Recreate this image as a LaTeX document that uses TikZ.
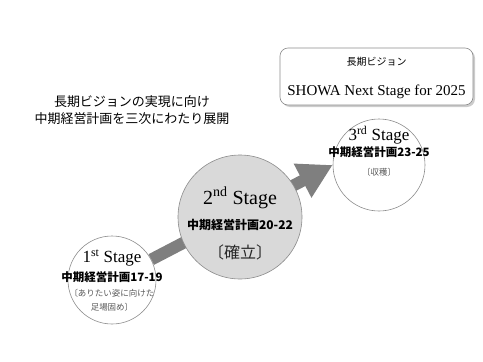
\documentclass[tikz,border=0pt]{standalone}
\usepackage{fontspec}
\setmainfont{Liberation Serif}
\newfontfamily\jpfont{Noto Sans CJK JP}
\usepackage{xcolor}
\definecolor{arrowgray}{HTML}{7F7F7F}
\definecolor{ringgray}{HTML}{8C8C8C}
\definecolor{diskgray}{HTML}{D9D9D9}
\definecolor{notegray}{HTML}{595959}
\definecolor{shadowgray}{HTML}{9A9A9A}
\usetikzlibrary{positioning, arrows.meta, backgrounds, shadows}

\begin{document}
\begin{tikzpicture}[x=1pt, y=-1pt]
    \tikzstyle{stagering} = [circle, draw=ringgray, line width=0.6pt, fill=white, inner sep=0pt]
    \tikzstyle{stagetitle} = [inner sep=0pt, font=\fontsize{17}{17}\selectfont]
    \tikzstyle{planlabel} = [inner sep=0pt, font=\jpfont\bfseries\fontsize{11.5}{12}\selectfont]
    \tikzstyle{notelabel} = [inner sep=0pt, text=notegray, font=\jpfont\fontsize{8.5}{14}\selectfont, align=center]
    \tikzstyle{visionbox} = [draw=ringgray, line width=0.6pt, fill=white, rounded corners=8pt, inner sep=0pt, drop shadow={shadow xshift=2pt, shadow yshift=-2pt, fill=shadowgray}]
    \tikzstyle{stagearrow} = [draw=arrowgray, line width=12pt, -{Triangle[length=34pt, width=36pt]}]

    \useasboundingbox (0,0) rectangle (483,362);

    % vision box
    \node [visionbox, minimum width=193pt, minimum height=57pt] (vision) at (376.5,76.5) {};
    \node [inner sep=0pt, font=\jpfont\fontsize{10}{10}\selectfont] (visiontitle) at ([yshift=14.5pt]vision.center) {長期ビジョン};
    \node [inner sep=0pt, font=\fontsize{15}{15}\selectfont] (visionname) at ([yshift=-15.5pt]vision.center) {SHOWA Next Stage for 2025};

    % lead text
    \node [inner sep=0pt, align=center, font=\jpfont\fontsize{13}{17}\selectfont] (lead) at (132,110) {長期ビジョンの実現に向け\\中期経営計画を三次にわたり展開};

    % stages
    \node [stagering, minimum size=88pt] (c1) at (112,280) {};
    \node [stagering, minimum size=124pt, fill=diskgray] (c2) at (240,217) {};
    \node [stagering, minimum size=92pt] (c3) at (379,165) {};

    \node [stagetitle] (t1) at ([yshift=22pt]c1.center) {1\textsuperscript{st} Stage};
    \node [planlabel] (p1) at ([yshift=3pt]c1.center) {中期経営計画17-19};
    \node [notelabel] (n1) at ([yshift=-20pt]c1.center) {〔ありたい姿に向けた\\足場固め〕};

    \node [stagetitle, font=\fontsize{20}{20}\selectfont] (t2) at ([yshift=19pt]c2.center) {2\textsuperscript{nd} Stage};
    \node [planlabel, font=\jpfont\bfseries\fontsize{12}{12}\selectfont] (p2) at ([yshift=-8pt]c2.center) {中期経営計画20-22};
    \node [inner sep=0pt, text=black!85, font=\jpfont\fontsize{16}{16}\selectfont] (n2) at ([yshift=-35pt]c2.center) {〔確立〕};

    \node [stagetitle] (t3) at ([yshift=30pt]c3.center) {3\textsuperscript{rd} Stage};
    \node [planlabel] (p3) at ([yshift=13pt]c3.center) {中期経営計画23-25};
    \node [notelabel] (n3) at ([yshift=-7pt]c3.center) {〔収穫〕};

    \begin{scope}[on background layer]
        \draw [stagearrow] (c1) -- (c3.west);
    \end{scope}
\end{tikzpicture}
\end{document}
